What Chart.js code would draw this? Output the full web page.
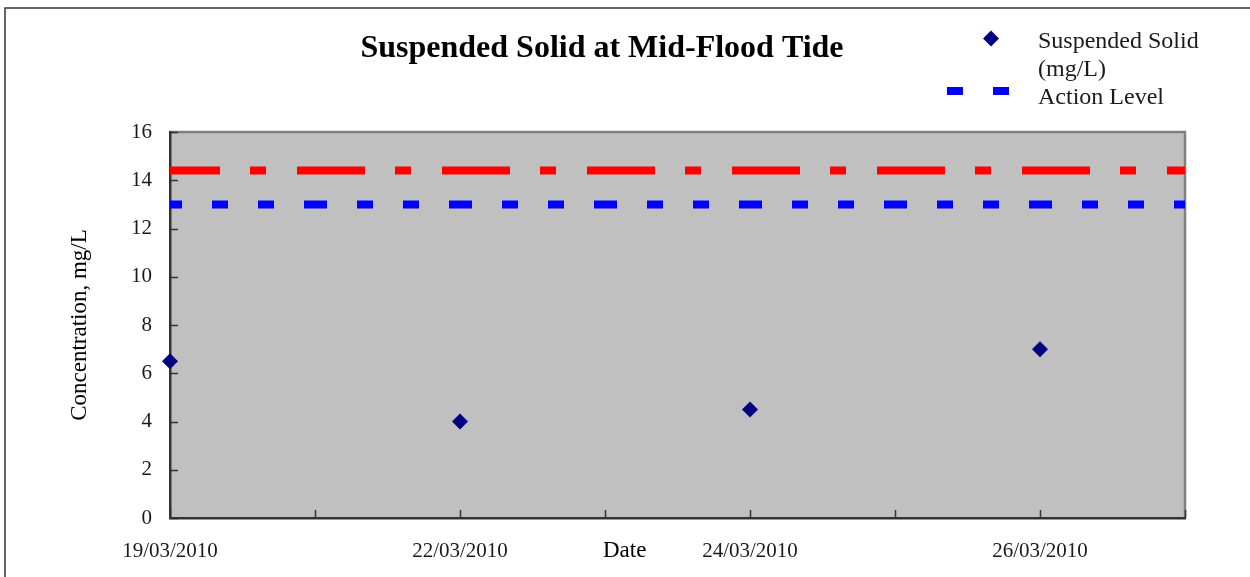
<!DOCTYPE html>
<html>
<head>
<meta charset="utf-8">
<script src="https://cdn.jsdelivr.net/npm/chart.js@4/dist/chart.umd.min.js"></script>
<style>
  html, body { margin: 0; padding: 0; background: #ffffff; }
  #wrap { width: 1250px; height: 577px; }
</style>
</head>
<body>
<div id="wrap"><canvas id="c" width="1250" height="577"></canvas></div>
<script>
// ---- data ----
const dateLabels = ['19/03/2010', '', '22/03/2010', '', '24/03/2010', '', '26/03/2010', ''];
const suspendedSolid = [6.5, null, 4, null, 4.5, null, 7, null];
const actionLevel = [13, 13, 13, 13, 13, 13, 13, 13];
const limitLevel = [14.4, 14.4, 14.4, 14.4, 14.4, 14.4, 14.4, 14.4];
const yTicks = [0, 2, 4, 6, 8, 10, 12, 14, 16];

const chartTitle = 'Suspended Solid at Mid-Flood Tide';
const xTitle = 'Date';
const yTitle = 'Concentration, mg/L';
const legendSS = ['Suspended Solid', '(mg/L)'];
const legendAL = 'Action Level';

const SERIF = '"Liberation Serif", "Times New Roman", serif';
const NAVY = '#000080';
const BLUE = '#0000ff';
const RED = '#ff0000';

const decorPlugin = {
  id: 'decor',
  beforeDraw(chart) {
    const ctx = chart.ctx;
    const a = chart.chartArea;
    ctx.save();
    ctx.fillStyle = '#ffffff';
    ctx.fillRect(0, 0, chart.width, chart.height);
    // outer frame
    ctx.strokeStyle = '#333333';
    ctx.lineWidth = 1.5;
    ctx.strokeRect(5, 8, chart.width + 20, chart.height + 20);
    // plot background
    ctx.fillStyle = '#c0c0c0';
    ctx.fillRect(a.left, a.top, a.right - a.left, a.bottom - a.top);
    ctx.strokeStyle = '#808080';
    ctx.lineWidth = 2.5;
    ctx.beginPath();
    ctx.moveTo(a.left, a.top);
    ctx.lineTo(a.right, a.top);
    ctx.lineTo(a.right, a.bottom);
    ctx.stroke();
    ctx.restore();
  },
  beforeDatasetsDraw(chart) {
    const ctx = chart.ctx;
    const a = chart.chartArea;
    const xs = chart.scales.x, ys = chart.scales.y;
    ctx.save();
    ctx.strokeStyle = '#333333';
    ctx.lineWidth = 1.5;
    ctx.beginPath();
    ys.ticks.forEach(t => {
      const y = Math.round(ys.getPixelForValue(t.value)) + 0.5;
      ctx.moveTo(a.left, y);
      ctx.lineTo(a.left + 8, y);
    });
    dateLabels.forEach((_, i) => {
      const x = Math.round(xs.getPixelForValue(i)) + 0.5;
      ctx.moveTo(x, a.bottom);
      ctx.lineTo(x, a.bottom - 8);
    });
    ctx.stroke();
    ctx.restore();
  },
  afterDraw(chart) {
    const ctx = chart.ctx;
    const a = chart.chartArea;
    const ds = chart.data.datasets;
    ctx.save();
    // main title
    ctx.fillStyle = '#000000';
    ctx.font = 'bold 32px ' + SERIF;
    ctx.textAlign = 'center';
    ctx.textBaseline = 'alphabetic';
    ctx.fillText(chartTitle, 602, 57);
    // x axis title (sits on the tick-label line)
    ctx.font = '23px ' + SERIF;
    ctx.fillStyle = '#000000';
    ctx.textBaseline = 'middle';
    ctx.fillText(xTitle, a.left + (a.right - a.left) * 0.448, 551);
    // legend
    ctx.textAlign = 'left';
    ctx.textBaseline = 'alphabetic';
    ctx.font = '24px ' + SERIF;
    // diamond marker
    ctx.fillStyle = ds[0].pointBackgroundColor;
    ctx.beginPath();
    ctx.moveTo(991, 30.5); ctx.lineTo(999, 38.5); ctx.lineTo(991, 46.5); ctx.lineTo(983, 38.5);
    ctx.closePath();
    ctx.fill();
    ctx.fillStyle = '#1a1a1a';
    ctx.fillText(legendSS[0], 1038, 48);
    ctx.fillText(legendSS[1], 1038, 76);
    // action level sample
    ctx.strokeStyle = ds[1].borderColor;
    ctx.lineWidth = ds[1].borderWidth;
    ctx.setLineDash([16, 30]);
    ctx.beginPath();
    ctx.moveTo(947, 91); ctx.lineTo(1009, 91);
    ctx.stroke();
    ctx.setLineDash([]);
    ctx.fillText(legendAL, 1038, 104);
    ctx.restore();
  }
};

new Chart(document.getElementById('c'), {
  type: 'line',
  data: {
    labels: dateLabels,
    datasets: [
      {
        label: 'Suspended Solid (mg/L)',
        data: suspendedSolid,
        showLine: false,
        pointStyle: 'rectRot',
        pointRadius: 8,
        pointHoverRadius: 8,
        pointBackgroundColor: NAVY,
        pointBorderColor: NAVY,
        pointBorderWidth: 0,
        order: 0
      },
      {
        label: 'Action Level',
        data: actionLevel,
        borderColor: BLUE,
        borderWidth: 8,
        borderDash: [23, 30, 16, 30, 16, 30],
        borderDashOffset: 11,
        borderCapStyle: 'butt',
        pointRadius: 0,
        fill: false,
        tension: 0,
        order: 2
      },
      {
        label: 'Limit Level',
        data: limitLevel,
        borderColor: RED,
        borderWidth: 8,
        borderDash: [68, 30, 16, 31],
        borderDashOffset: 18,
        borderCapStyle: 'butt',
        pointRadius: 0,
        fill: false,
        tension: 0,
        order: 1
      }
    ]
  },
  options: {
    responsive: false,
    devicePixelRatio: 1,
    animation: false,
    layout: { padding: { left: 0, right: 65, top: 132, bottom: 0 } },
    plugins: {
      legend: { display: false },
      title: { display: false },
      tooltip: { enabled: false }
    },
    scales: {
      x: {
        type: 'category',
        offset: false,
        afterFit(s) { s.height = 59; },
        grid: { display: false, drawTicks: false },
        border: { display: true, color: '#333333', width: 2.5 },
        ticks: {
          autoSkip: false,
          maxRotation: 0,
          minRotation: 0,
          padding: 21,
          color: '#1a1a1a',
          font: { family: SERIF, size: 21 }
        }
      },
      y: {
        min: 0,
        max: 16,
        afterFit(s) { s.width = 170; },
        afterBuildTicks(s) { s.ticks = yTicks.map(v => ({ value: v })); },
        grid: { display: false, drawTicks: false },
        border: { display: true, color: '#333333', width: 2.5 },
        ticks: {
          padding: 18,
          color: '#1a1a1a',
          font: { family: SERIF, size: 21 }
        },
        title: {
          display: true,
          text: yTitle,
          color: '#000000',
          font: { family: SERIF, size: 23 },
          padding: { top: 66, bottom: 0 }
        }
      }
    }
  },
  plugins: [decorPlugin]
});
</script>
</body>
</html>
